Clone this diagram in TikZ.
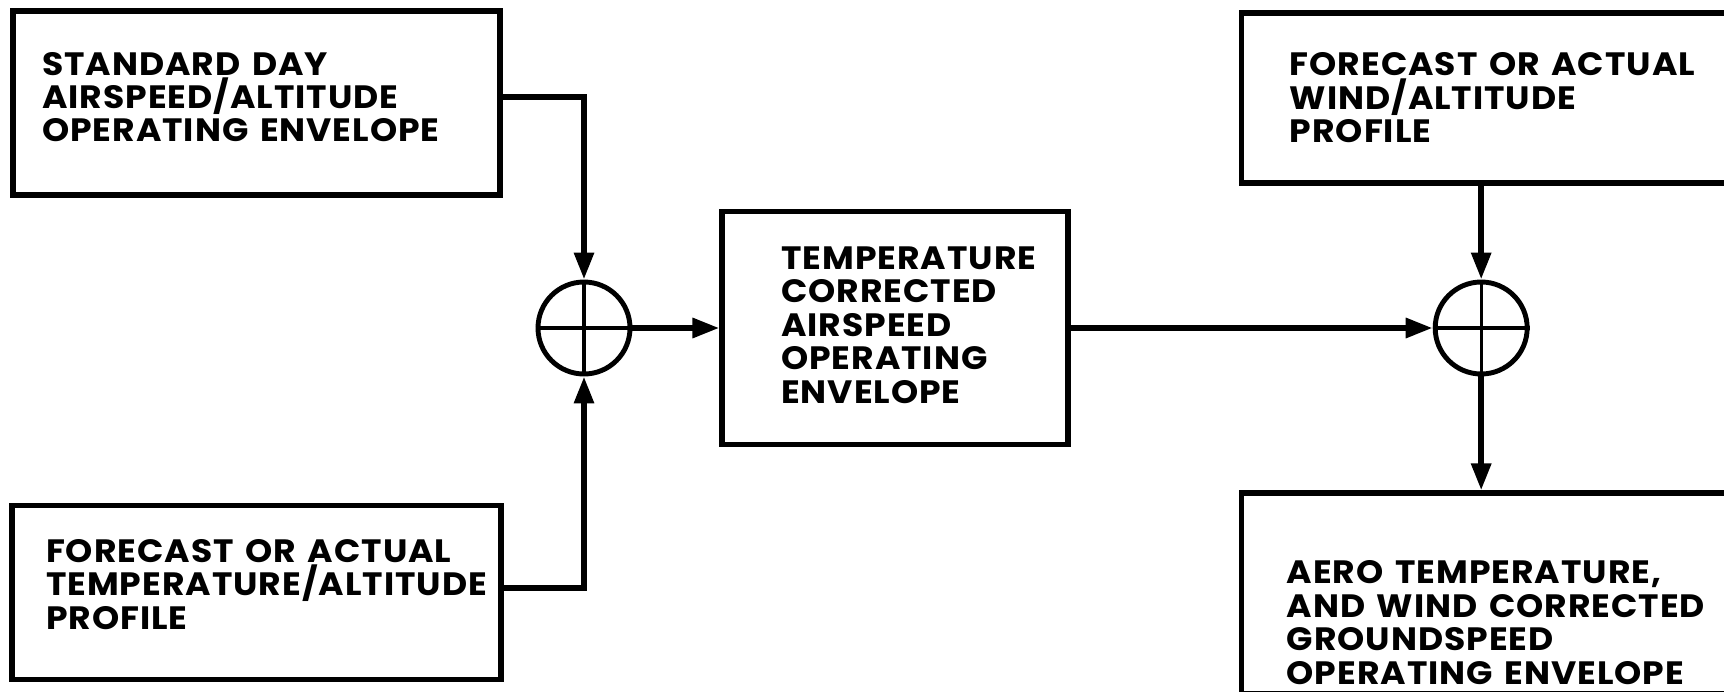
\documentclass[tikz,border=0pt]{standalone}
\usepackage{fontspec}
\setmainfont{Poppins}[FakeStretch=1.07,LetterSpace=3,WordSpace=1.4]
\usetikzlibrary{arrows.meta,positioning}
\tikzset{
  blk/.style={rectangle,draw,line width=1.5pt,inner sep=0pt},
  txt/.style={align=left,inner sep=0pt,font=\fontsize{9.2}{9.5}\selectfont\bfseries},
  sum/.style={circle,draw,line width=1.4pt,minimum size=9.2mm,inner sep=0pt},
  arr/.style={-{Triangle[length=2.7mm,width=1.9mm]},line width=1.7pt},
}
\begin{document}
\begin{tikzpicture}[x=0.1mm,y=-0.1mm]
  \useasboundingbox (0,0) rectangle (1724,692);
  % boxes
  \node[blk,minimum width=48.7mm,minimum height=18.4mm] (std) at (256.5,103) {};
  \node[blk,minimum width=48.9mm,minimum height=17.4mm,below=30.5mm of std] (tmp) {};
  \node[sum] (s1) at (584,328) {};
  \node[blk,minimum width=34.6mm,minimum height=23.3mm,right=8.7mm of s1] (tca) {};
  \node[sum,right=36.2mm of tca] (s2) {};
  \node[blk,minimum width=49.3mm,minimum height=17mm,above=9.4mm of s2,xshift=0.7mm] (wnd) {};
  \node[blk,minimum width=49.3mm,minimum height=20.1mm,below=11.4mm of s2,xshift=0.7mm] (gnd) {};
  % texts
  \node[txt,right=3.1mm of std.west,yshift=0.6mm] (std-t) {STANDARD DAY\\AIRSPEED/ALTITUDE\\OPERATING ENVELOPE};
  \node[txt,right=3.6mm of tmp.west,yshift=0.8mm] (tmp-t) {FORECAST OR ACTUAL\\TEMPERATURE/ALTITUDE\\PROFILE};
  \node[txt,right=6.1mm of tca.west,yshift=0.3mm] (tca-t) {TEMPERATURE\\CORRECTED\\AIRSPEED\\OPERATING\\ENVELOPE};
  \node[txt,right=5mm of wnd.west] (wnd-t) {FORECAST OR ACTUAL\\WIND/ALTITUDE\\PROFILE};
  \node[txt,right=4.7mm of gnd.west,yshift=-2.9mm] (gnd-t) {AERO TEMPERATURE,\\AND WIND CORRECTED\\GROUNDSPEED\\OPERATING ENVELOPE};
  % summing points and connectors
  \foreach \s in {s1,s2} \draw[line width=0.9pt] (\s.north) -- (\s.south) (\s.west) -- (\s.east);
  \draw[arr] ([yshift=0.6mm]std.east) -| (s1.north);
  \draw[arr] ([yshift=0.4mm]tmp.east) -| (s1.south);
  \draw[arr] (s1.east) -- (tca.west);
  \draw[arr] (tca.east) -- (s2.west);
  \draw[arr] (s2 |- wnd.south) -- (s2.north);
  \draw[arr] (s2.south) -- (s2 |- gnd.north);
\end{tikzpicture}
\end{document}
